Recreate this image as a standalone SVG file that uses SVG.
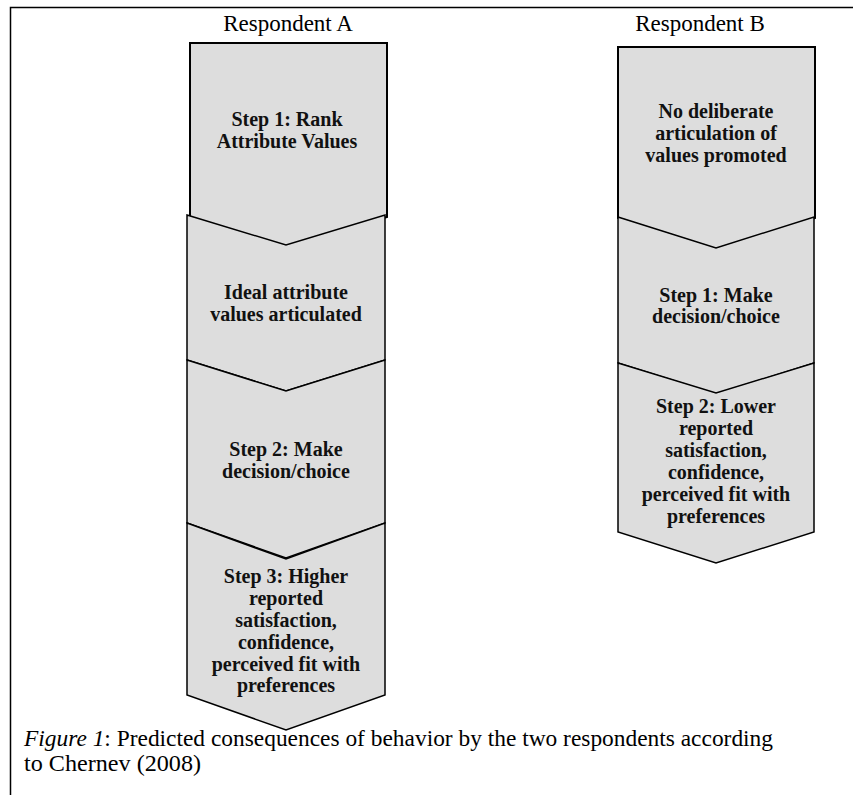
<svg xmlns="http://www.w3.org/2000/svg" width="853" height="795" viewBox="0 0 853 795">
<style>
.frame{stroke:#000;stroke-width:1.5;fill:none}
.shape{fill:#dddddd;stroke:#000;stroke-width:1.5;stroke-linejoin:miter}
.first{stroke-width:2}
.head{font-family:"Liberation Serif","Times New Roman",serif;font-size:23px;fill:#000;text-anchor:middle}
.lbl{font-family:"Liberation Serif","Times New Roman",serif;font-size:20px;font-weight:bold;fill:#111;text-anchor:middle}
.cap{font-family:"Liberation Serif","Times New Roman",serif;font-size:23px;fill:#000}
</style>
<rect width="853" height="795" fill="#fff"/>
<path class="frame" d="M10.5,795 V7.5 H853"/>
<text class="head" x="288" y="31">Respondent A</text>
<text class="head" x="700" y="31">Respondent B</text>
<g id="connectors"></g>
<g id="a1">
<path class="shape first" d="M190,43 H387 V217 L288,247 L190,217 Z"/>
<text class="lbl" x="287" y="126">Step 1: Rank</text>
<text class="lbl" x="287" y="148">Attribute Values</text>
</g>
<g id="a2">
<path class="shape" d="M187,215 L286,245 L385,215 V360 L286,391 L187,360 Z"/>
<text class="lbl" x="286" y="299">Ideal attribute</text>
<text class="lbl" x="286" y="321">values articulated</text>
</g>
<g id="a3">
<path class="shape" d="M187,360 L286,391 L385,360 V523 L286,558 L187,523 Z"/>
<text class="lbl" x="286" y="456">Step 2: Make</text>
<text class="lbl" x="286" y="478">decision/choice</text>
</g>
<g id="a4">
<path class="shape" d="M187,523 L286,559 L385,523 V695 L286,730 L187,695 Z"/>
<text class="lbl" x="286" y="583">Step 3: Higher</text>
<text class="lbl" x="286" y="605">reported</text>
<text class="lbl" x="286" y="627">satisfaction,</text>
<text class="lbl" x="286" y="649">confidence,</text>
<text class="lbl" x="286" y="671">perceived fit with</text>
<text class="lbl" x="286" y="692">preferences</text>
</g>
<g id="b1">
<path class="shape first" d="M618,47 H815 V218 L716,249 L618,218 Z"/>
<text class="lbl" x="716" y="118">No deliberate</text>
<text class="lbl" x="716" y="140">articulation of</text>
<text class="lbl" x="716" y="162">values promoted</text>
</g>
<g id="b2">
<path class="shape" d="M618,217 L716,248 L814,217 V363 L716,394 L618,363 Z"/>
<text class="lbl" x="716" y="302">Step 1: Make</text>
<text class="lbl" x="716" y="323">decision/choice</text>
</g>
<g id="b3">
<path class="shape" d="M618,363 L716,393 L814,363 V532 L716,563 L618,532 Z"/>
<text class="lbl" x="716" y="413">Step 2: Lower</text>
<text class="lbl" x="716" y="435">reported</text>
<text class="lbl" x="716" y="457">satisfaction,</text>
<text class="lbl" x="716" y="479">confidence,</text>
<text class="lbl" x="716" y="501">perceived fit with</text>
<text class="lbl" x="716" y="523">preferences</text>
</g>
<text class="cap" x="24" y="746" textLength="749" lengthAdjust="spacingAndGlyphs"><tspan font-style="italic">Figure 1</tspan>: Predicted consequences of behavior by the two respondents according</text>
<text class="cap" x="24" y="771" textLength="177" lengthAdjust="spacingAndGlyphs">to Chernev (2008)</text>
</svg>
